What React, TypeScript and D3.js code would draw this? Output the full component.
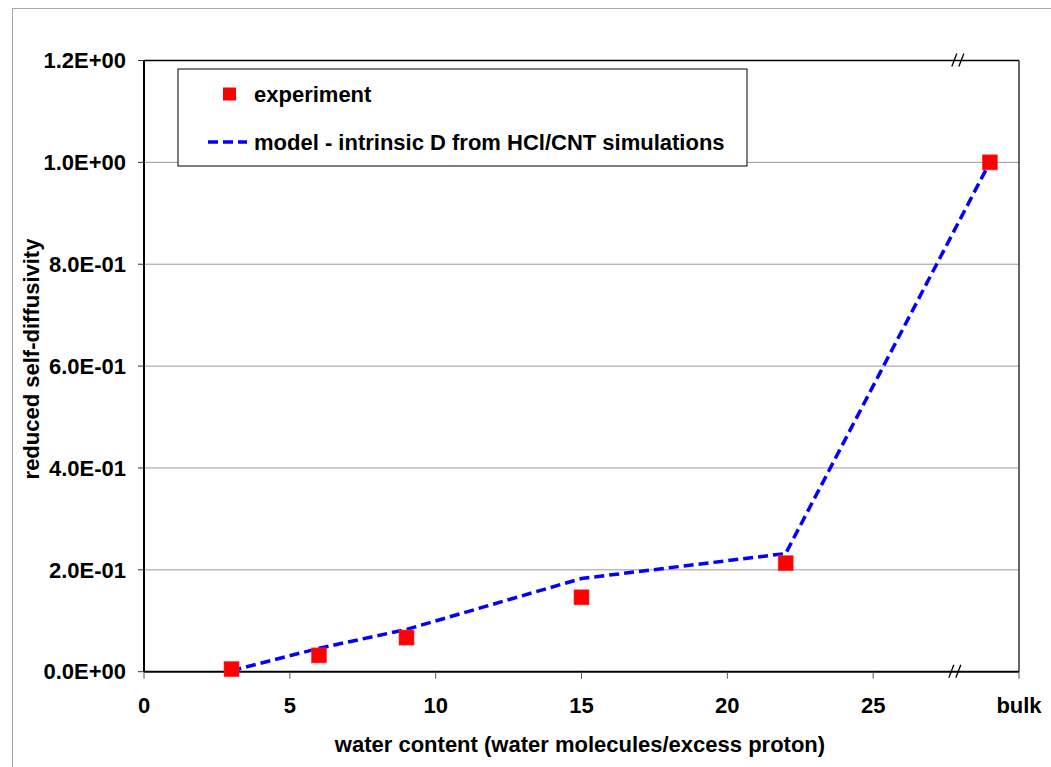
import React from "react";
import * as d3 from "d3";

// Water content (water molecules / excess proton); 29 stands for the bulk point
const expX = [3, 6, 9, 15, 22, 29];
const expY = [0.005, 0.032, 0.067, 0.146, 0.213, 1.0];

const modelX = [3, 6, 9, 15, 22, 29];
const modelY = [0.002, 0.046, 0.083, 0.183, 0.232, 1.0];

const xTicks = [0, 5, 10, 15, 20, 25, 30];
const xTickLabels = ["0", "5", "10", "15", "20", "25", "bulk"];
const yTicks = [0, 0.2, 0.4, 0.6, 0.8, 1.0, 1.2];
const yTickLabels = ["0.0E+00", "2.0E-01", "4.0E-01", "6.0E-01", "8.0E-01", "1.0E+00", "1.2E+00"];
const axisBreakX = 27.8;

const W = 1051;
const H = 767;
const FONT = "'Liberation Sans', Arial, sans-serif";
const FS = 22;

export default function App() {
  const left = 144, right = 1019, top = 60.5, bottom = 671.7;
  const x = d3.scaleLinear().domain([0, 30]).range([left, right]);
  const y = d3.scaleLinear().domain([0, 1.2]).range([bottom, top]);

  const line = d3
    .line<number>()
    .x((_, i) => x(modelX[i]))
    .y((d) => y(d));

  const sq = 15;
  const bx = x(axisBreakX);

  const slash = (cx: number, cy: number, key: string) => (
    <g key={key} stroke="#000" strokeWidth={1.3}>
      <line x1={cx - 6} y1={cy + 6} x2={cx - 1} y2={cy - 7} />
      <line x1={cx + 1} y1={cy + 6} x2={cx + 6} y2={cy - 7} />
    </g>
  );

  return (
    <svg
      width={W}
      height={H}
      style={{ position: "absolute", left: 0, top: 0, background: "#fff" }}
      fontFamily={FONT}
      fontWeight="bold"
    >
      {/* chart frame */}
      <rect x={12.5} y={8.5} width={W + 20} height={H + 20} fill="none" stroke="#a8a8a8" strokeWidth={1} />

      {/* horizontal gridlines */}
      {yTicks.slice(1, -1).map((t) => (
        <line key={"g" + t} x1={left} x2={right} y1={y(t)} y2={y(t)} stroke="#9a9a9a" strokeWidth={1} />
      ))}

      {/* plot border */}
      <line x1={left} x2={right} y1={top} y2={top} stroke="#000" strokeWidth={1.3} />
      <line x1={right} x2={right} y1={top} y2={bottom} stroke="#333" strokeWidth={1.5} />

      {/* y axis */}
      <line x1={left} x2={left} y1={top} y2={bottom} stroke="#000" strokeWidth={2} />
      {yTicks.map((t, i) => (
        <g key={"yt" + t}>
          <line x1={left - 6} x2={left} y1={y(t)} y2={y(t)} stroke="#333" strokeWidth={1} />
          <text x={126} y={y(t)} dy="0.35em" textAnchor="end" fontSize={FS}>
            {yTickLabels[i]}
          </text>
        </g>
      ))}

      {/* x axis */}
      <line x1={left} x2={right} y1={bottom} y2={bottom} stroke="#000" strokeWidth={2} />
      {xTicks.map((t, i) => (
        <g key={"xt" + t}>
          <line x1={x(t)} x2={x(t)} y1={bottom} y2={bottom + 7} stroke="#555" strokeWidth={1} />
          <text x={x(t)} y={705} dy="0.35em" textAnchor="middle" fontSize={FS}>
            {xTickLabels[i]}
          </text>
        </g>
      ))}

      {/* axis break marks */}
      {slash(bx, bottom, "b1")}
      {slash(bx + 3, top, "b2")}

      {/* model line */}
      <path
        d={line(modelY) || ""}
        fill="none"
        stroke="#0000ff"
        strokeWidth={3.5}
        strokeDasharray="10,5"
      />

      {/* experiment markers */}
      {expX.map((v, i) => (
        <rect
          key={"e" + i}
          x={x(v) - sq / 2}
          y={y(expY[i]) - sq / 2}
          width={sq}
          height={sq}
          fill="#ff0000"
          stroke="#ff3030"
          strokeWidth={0.6}
        />
      ))}

      {/* legend */}
      <rect x={178} y={69} width={569} height={97} fill="#fff" stroke="#000" strokeWidth={1} />
      <rect x={223} y={87.5} width={13} height={13} fill="#ff0000" />
      <text x={254} y={94} dy="0.35em" fontSize={FS}>experiment</text>
      <line x1={208} x2={247} y1={142} y2={142} stroke="#0000ff" strokeWidth={3.5} strokeDasharray="10,5" />
      <text x={254} y={142} dy="0.35em" fontSize={FS}>model - intrinsic D from HCl/CNT simulations</text>

      {/* axis titles */}
      <text x={580} y={744} dy="0.35em" textAnchor="middle" fontSize={FS}>
        water content (water molecules/excess proton)
      </text>
      <text
        transform={`translate(31,359) rotate(-90)`}
        dy="0.35em"
        textAnchor="middle"
        fontSize={FS}
      >
        reduced self-diffusivity
      </text>
    </svg>
  );
}
